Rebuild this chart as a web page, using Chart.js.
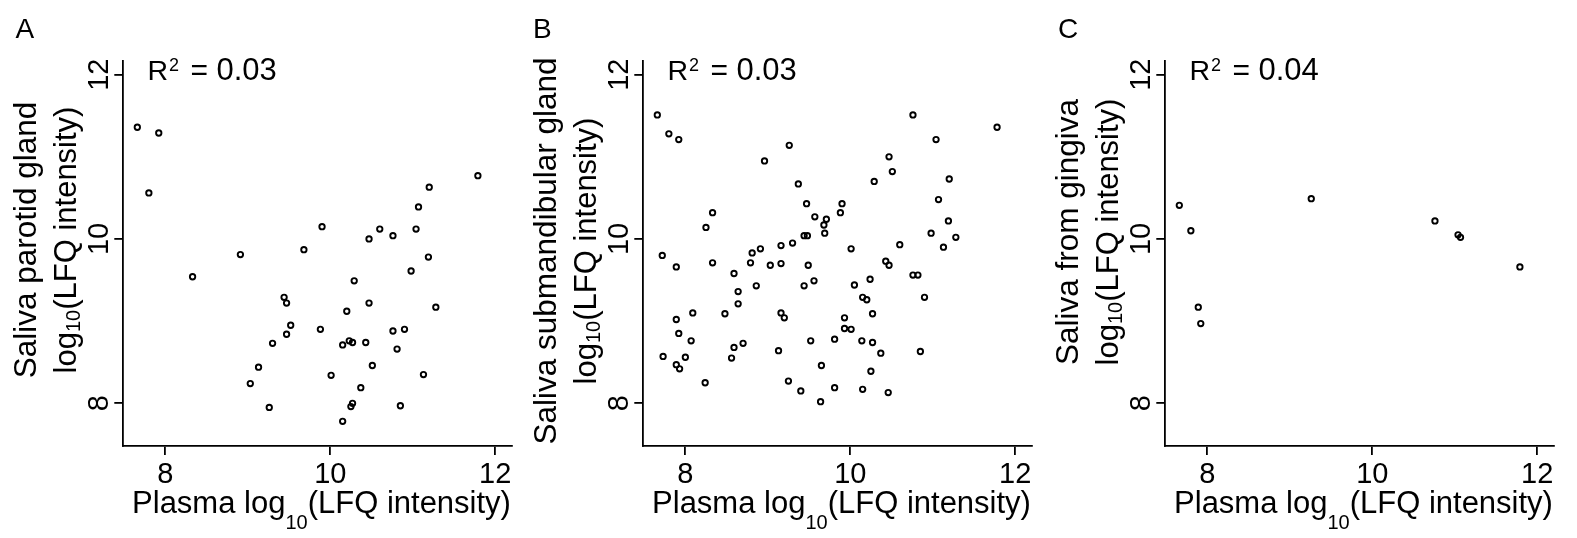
<!DOCTYPE html>
<html>
<head>
<meta charset="utf-8">
<script src="https://cdn.jsdelivr.net/npm/chart.js@4.4.1/dist/chart.umd.min.js"></script>
<style>
  html, body { margin: 0; padding: 0; background: #fff; }
  body { width: 1577px; height: 538px; position: relative; overflow: hidden; }
  .painel { position: absolute; top: 0; width: 520px; height: 538px; }
</style>
</head>
<body>
<div class="painel" style="left:0px"><canvas id="graficoA" width="520" height="538"></canvas></div>
<div class="painel" style="left:520px"><canvas id="graficoB" width="520" height="538"></canvas></div>
<div class="painel" style="left:1042px"><canvas id="graficoC" width="520" height="538"></canvas></div>
<script>
// ticks dos dois eixos (mesmos nos tres paineis)
const ticksEixo = [8, 10, 12];
const limiteX = [7.49, 12.2];
const limiteY = [7.48, 12.17];

// A - saliva da parotida
const parotidaX = [7.66, 7.92, 7.80, 8.33, 8.91, 9.90, 9.68, 11.79, 11.20, 11.07, 10.60, 11.04, 10.76, 10.47, 11.19,
  10.98, 10.29, 9.44, 9.47, 10.47, 11.28, 10.20, 9.52, 9.88, 9.47, 10.76, 10.90, 9.30, 10.23, 10.27, 10.15, 10.43,
  10.81, 9.13, 10.51, 10.01, 9.03, 11.13, 10.37, 9.26, 10.27, 10.25, 10.85, 10.15];
const parotidaY = [11.36, 11.29, 10.56, 9.54, 9.81, 10.15, 9.87, 10.77, 10.63, 10.39, 10.12, 10.12, 10.04, 10.00, 9.78,
  9.61, 9.49, 9.29, 9.22, 9.22, 9.17, 9.12, 8.95, 8.90, 8.84, 8.88, 8.90, 8.73, 8.76, 8.74, 8.71, 8.74,
  8.66, 8.44, 8.46, 8.34, 8.24, 8.35, 8.19, 7.95, 8.00, 7.96, 7.97, 7.78];

// B - saliva da submandibular
const submandX = [7.66, 7.80, 7.92, 9.26, 8.96, 10.76, 11.78, 11.04, 10.47, 10.51, 11.20, 10.29, 9.37, 11.07, 9.47,
  9.90, 9.88, 8.33, 9.57, 9.71, 9.68, 11.19, 8.25, 9.69, 9.44, 9.48, 10.98, 11.28, 9.30, 9.16, 8.91, 8.81, 7.72,
  10.60, 10.01, 11.13, 7.89, 8.33, 8.79, 9.03, 9.16, 9.49, 10.43, 10.47, 8.59, 10.76, 10.82, 8.86, 9.44, 9.56,
  10.05, 10.24, 8.64, 8.64, 10.15, 10.20, 10.90, 8.09, 8.48, 9.16, 9.20, 10.27, 7.89, 9.93, 9.93, 10.01, 7.92,
  8.07, 8.70, 8.59, 9.52, 9.81, 10.14, 10.27, 10.37, 10.85, 9.13, 7.73, 8.00, 8.56, 7.89, 7.93, 9.65, 10.25,
  8.24, 9.25, 9.40, 9.81, 10.15, 10.46, 9.64];
const submandY = [11.51, 11.28, 11.21, 11.14, 10.95, 11.51, 11.36, 11.21, 11.00, 10.82, 10.73, 10.70, 10.67, 10.48, 10.43,
  10.43, 10.32, 10.32, 10.27, 10.24, 10.17, 10.22, 10.14, 10.07, 10.04, 10.04, 10.07, 10.02, 9.95, 9.92, 9.88, 9.83, 9.80,
  9.93, 9.88, 9.90, 9.66, 9.71, 9.71, 9.68, 9.70, 9.68, 9.73, 9.68, 9.58, 9.56, 9.56, 9.43, 9.43, 9.49,
  9.44, 9.51, 9.36, 9.21, 9.29, 9.26, 9.29, 9.10, 9.09, 9.10, 9.04, 9.09, 9.02, 9.04, 8.91, 8.90, 8.85,
  8.76, 8.73, 8.68, 8.76, 8.78, 8.76, 8.74, 8.61, 8.63, 8.64, 8.57, 8.56, 8.55, 8.47, 8.42, 8.46, 8.39,
  8.25, 8.27, 8.15, 8.19, 8.17, 8.13, 8.02];

// C - saliva da gengiva
const gengivaX = [7.66, 7.80, 9.26, 10.76, 11.04, 11.07, 11.79, 7.89, 7.92];
const gengivaY = [10.41, 10.10, 10.49, 10.22, 10.05, 10.02, 9.66, 9.17, 8.97];

const FONTE = '"Liberation Sans", Arial, Helvetica, sans-serif';

// escreve texto em pedacos (para sub e sobrescrito)
function escreveTexto(ctx, partes, x, y, tamanho, alinhamento) {
    var largura = 0;
    partes.forEach(function (p) {
        ctx.font = (p.tam || tamanho) + 'px ' + FONTE;
        largura += ctx.measureText(p.t).width;
    });
    var cx = alinhamento === 'center' ? x - largura / 2 : x;
    ctx.textAlign = 'left';
    ctx.textBaseline = 'alphabetic';
    partes.forEach(function (p) {
        ctx.font = (p.tam || tamanho) + 'px ' + FONTE;
        ctx.fillText(p.t, cx, y + (p.dy || 0));
        cx += ctx.measureText(p.t).width;
    });
}

function textosPainel(painel) {
    return {
        id: 'textos' + painel.letra,
        afterDraw: function (chart) {
            var ctx = chart.ctx;
            var area = chart.chartArea;
            var escalaY = chart.scales.y;
            ctx.save();
            ctx.fillStyle = '#000';

            // letra do painel
            escreveTexto(ctx, [{ t: painel.letra }], painel.letraX, 37.5, 28, 'left');

            // R2 (espacamento largo como no plotmath)
            escreveTexto(ctx, [{ t: 'R' }], 147.5, 80, 28.5, 'left');
            escreveTexto(ctx, [{ t: '2' }], 169, 70.5, 18, 'left');
            escreveTexto(ctx, [{ t: '=' }], 190.5, 80, 30, 'left');
            escreveTexto(ctx, [{ t: painel.r2 }], 216.5, 80, 31, 'left');

            // labels do eixo y, girados
            ticksEixo.forEach(function (v) {
                var py = escalaY.getPixelForValue(v);
                ctx.save();
                ctx.translate(107.5, py);
                ctx.rotate(-Math.PI / 2);
                ctx.font = '29px ' + FONTE;
                ctx.textAlign = 'center';
                ctx.textBaseline = 'alphabetic';
                ctx.fillText(String(v), 0, 0);
                ctx.restore();
            });

            // titulo do eixo y (duas linhas)
            ctx.save();
            ctx.translate(35.5, painel.centroTituloY);
            ctx.rotate(-Math.PI / 2);
            escreveTexto(ctx, [{ t: painel.tituloY }], 0, 0, 31.5, 'center');
            ctx.restore();
            ctx.save();
            ctx.translate(75.5, painel.centroTituloY);
            ctx.rotate(-Math.PI / 2);
            escreveTexto(ctx, [{ t: 'log' }, { t: '10', tam: 20, dy: 4.5 }, { t: '(LFQ intensity)' }], 0, 0, 31, 'center');
            ctx.restore();

            // titulo do eixo x
            var centroX = (area.left + area.right) / 2 + 4;
            escreveTexto(ctx, [{ t: 'Plasma log' }, { t: '10', tam: 20, dy: 16.5 }, { t: '(LFQ intensity)' }], centroX, 512.7, 31, 'center');

            ctx.restore();
        }
    };
}

function criaGrafico(idCanvas, dadosX, dadosY, painel) {
    var pontos = dadosX.map(function (x, i) { return { x: x, y: dadosY[i] }; });
    var eixo = function (extra) {
        return Object.assign({
            type: 'linear',
            border: { display: true, color: '#000', width: 1.8 },
            grid: { display: true, drawOnChartArea: false, drawTicks: true, tickLength: 9, color: '#000', lineWidth: 1.8 },
            afterBuildTicks: function (s) { s.ticks = ticksEixo.map(function (v) { return { value: v }; }); }
        }, extra);
    };
    return new Chart(document.getElementById(idCanvas), {
        type: 'scatter',
        data: {
            datasets: [{
                data: pontos,
                pointStyle: 'circle',
                pointRadius: 2.7,
                pointBorderWidth: 1.9,
                pointBorderColor: '#000',
                pointBackgroundColor: 'rgba(255,255,255,0)'
            }]
        },
        options: {
            responsive: false,
            animation: false,
            events: [],
            layout: { padding: { left: 0, top: 60.7, right: 8.3, bottom: 0 } },
            plugins: { legend: { display: false }, tooltip: { enabled: false }, title: { display: false } },
            scales: {
                x: eixo({
                    min: limiteX[0], max: limiteX[1],
                    afterFit: function (s) { s.height = 92; },
                    ticks: { color: '#000', font: { family: FONTE, size: 29 }, padding: 3, maxRotation: 0, autoSkip: false }
                }),
                y: eixo({
                    min: limiteY[0], max: limiteY[1],
                    afterFit: function (s) { s.width = 123.3; },
                    ticks: { display: false }
                })
            }
        },
        plugins: [textosPainel(painel)]
    });
}

criaGrafico('graficoA', parotidaX, parotidaY, { letra: 'A', letraX: 15.5, r2: '0.03', tituloY: 'Saliva parotid gland', centroTituloY: 240 });
criaGrafico('graficoB', submandX, submandY, { letra: 'B', letraX: 13, r2: '0.03', tituloY: 'Saliva submandibular gland', centroTituloY: 251 });
criaGrafico('graficoC', gengivaX, gengivaY, { letra: 'C', letraX: 16, r2: '0.04', tituloY: 'Saliva from gingiva', centroTituloY: 232 });
</script>
</body>
</html>
